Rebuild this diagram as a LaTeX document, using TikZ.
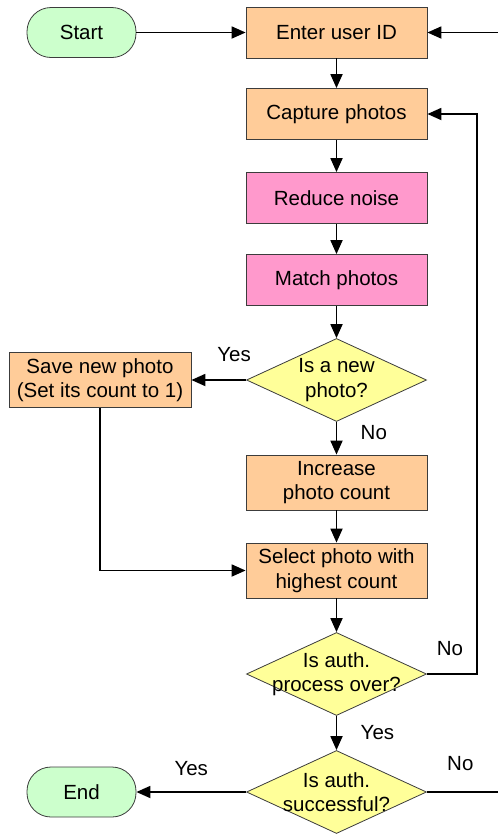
\documentclass[tikz,border=0pt]{standalone}
\usepackage{fontspec}
\setmainfont{Liberation Sans}
\usepackage{tikz}
\usetikzlibrary{shapes.geometric,arrows.meta,positioning}
\definecolor{termgreen}{RGB}{204,255,204}
\definecolor{procorange}{RGB}{255,204,153}
\definecolor{filtpink}{RGB}{255,153,204}
\definecolor{decyellow}{RGB}{255,255,153}
\definecolor{edgegray}{RGB}{60,60,60}
\tikzstyle{term} = [rectangle, rounded corners=24pt, draw=edgegray, line width=0.8pt, fill=termgreen, minimum width=109pt, minimum height=50pt]
\tikzstyle{proc} = [rectangle, draw=edgegray, line width=0.8pt, fill=procorange, minimum width=181pt, minimum height=51pt, align=center]
\tikzstyle{proc2} = [proc, minimum width=182pt, minimum height=55pt]
\tikzstyle{filt} = [proc, fill=filtpink]
\tikzstyle{dec} = [diamond, draw=edgegray, line width=0.8pt, fill=decyellow, minimum width=180pt, minimum height=83pt, inner sep=0pt]
\tikzstyle{dtxt} = [align=center, inner sep=0pt]

\begin{document}
\begin{tikzpicture}[on grid, font=\fontsize{20.5}{24.5}\selectfont, >={Triangle[length=14pt,width=12pt]}]
\useasboundingbox (0pt,0pt) rectangle (498pt,-836pt);
\node(B)[proc] at (336.5pt,-32.5pt) {Enter user ID};
\node(A)[term, left=255pt of B] {Start};
\node(C)[proc, below=81.5pt of B] {Capture photos};
\node(D)[filt, below=84pt of C] {Reduce noise};
\node(E)[filt, below=82pt of D] {Match photos};
\node(F)[dec, below=100pt of E, label={[dtxt]center:Is a new\\photo?}] {};
\node(G)[proc2, left=236.5pt of F] {Save new photo\\(Set its count to 1)};
\node(H)[proc, minimum height=55pt, below=102.5pt of F] {Increase\\photo count};
\node(I)[proc, minimum height=55pt, below=88pt of H] {Select photo with\\highest count};
\node(J)[dec, below=103.5pt of I, label={[dtxt]center:Is auth.\\process over?}] {};
\node(K)[dec, below=118pt of J, label={[dtxt]center:Is auth.\\successful?}] {};
\node(L)[term, left=255pt of K] {End};
\coordinate(P) at (498pt,-32.5pt);
\coordinate(Q) at (498pt,-792pt);
\begin{scope}[line width=1.8pt]
\draw[->](A.east)--(B.west);
\draw[->](P)--(B.east);
\draw[->](B.south)--(C.north);
\draw[->](C.south)--(D.north);
\draw[->](D.south)--(E.north);
\draw[->](E.south)--(F.north);
\draw[->](F.west)--(G.east) node[pos=0.22, above=14pt] {Yes};
\draw[->](F.south)--(H.north) node[pos=0.32, right=20pt] {No};
\draw[->](H.south)--(I.north);
\draw[->](G.south)|-(I.west);
\draw[->](I.south)--(J.north);
\draw[->](J.east)--++(50pt,0pt) node[pos=0.46, above=14pt] {No} |-(C.east);
\draw[->](J.south)--(K.north) node[midway, right=20pt] {Yes};
\draw[->](K.west)--(L.east) node[pos=0.5, above=12pt] {Yes};
\draw(K.east)--(Q) node[pos=0.47, above=17pt] {No};
\end{scope}
\end{tikzpicture}
\end{document}
